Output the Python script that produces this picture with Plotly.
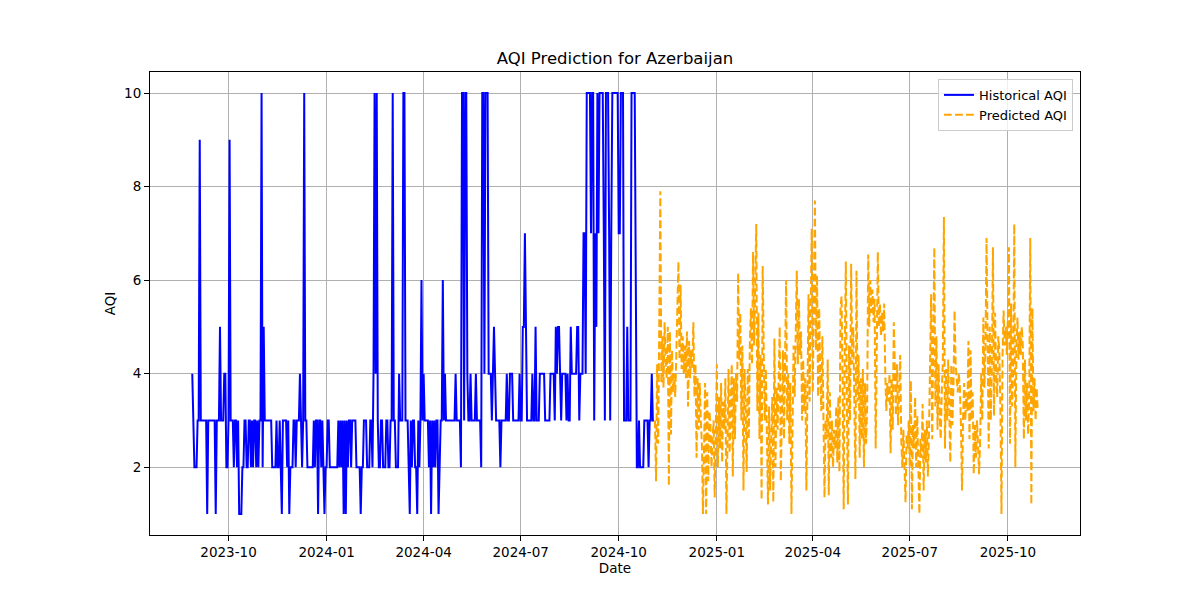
import pandas as pd
import plotly.graph_objects as go

# ---------------- data ----------------
hist_start = "2023-08-28"
hist_aqi = [
    4,3,2,2,2,3,3,9,3,3,
    3,3,3,3,1,3,3,3,3,3,
    3,3,1,3,3,3,5,3,3,3,
    4,4,2,2,3,9,3,3,3,2,
    3,3,2,3,1,1,1,2,2,3,
    3,2,2,3,3,2,3,2,3,3,
    2,3,2,3,3,10,2,5,3,3,
    3,3,3,3,3,2,2,2,2,3,
    2,2,3,2,1,3,3,3,3,2,
    3,1,2,2,2,3,3,2,3,3,
    3,4,3,2,3,10,3,3,2,2,
    2,2,2,2,3,2,3,3,1,3,
    3,2,3,2,1,2,2,3,3,2,
    2,2,2,2,2,2,2,3,2,3,
    2,3,1,3,1,3,2,3,3,2,
    3,3,3,3,2,2,2,2,1,2,
    2,3,3,3,2,2,2,3,3,2,
    4,10,4,10,3,2,2,3,3,2,
    2,2,3,3,2,2,3,3,10,3,
    3,2,2,2,4,3,3,3,10,10,
    3,3,3,2,1,3,2,3,3,2,
    2,1,3,2,3,6,3,4,3,3,
    3,3,2,3,1,3,2,3,2,3,
    3,1,2,3,3,6,3,4,3,3,
    3,3,3,3,3,3,3,4,3,3,
    3,3,2,10,10,3,10,10,4,3,
    3,4,3,3,3,3,4,3,3,3,
    3,2,10,10,4,10,10,10,4,4,
    4,3,4,5,4,3,3,3,3,2,
    3,3,3,3,3,4,3,3,4,4,
    4,3,3,3,3,3,3,4,3,3,
    5,5,7,5,3,3,3,3,3,4,
    3,3,5,3,3,3,4,4,4,4,
    4,3,3,3,3,3,4,4,4,4,
    3,5,4,5,5,4,3,4,4,4,
    4,3,4,3,3,5,4,4,4,4,
    4,5,5,3,4,4,4,7,7,4,
    10,10,10,10,7,10,10,3,7,5,
    10,7,10,10,10,10,7,3,10,10,
    10,7,3,7,10,10,10,10,10,10,
    7,7,10,10,10,3,3,3,5,3,
    3,3,10,10,10,10,6,2,2,3,
    2,2,2,2,3,3,3,3,2,3,
    3,4,3,3,
]

pred_aqi = [
    3.0, 1.7, 4.2, 2.5, 5.0, 7.9, 3.8, 4.8, 3.7, 5.1,
    4.2, 3.9, 5.0, 1.6, 4.9, 2.7, 4.5, 3.6, 4.0, 3.5,
    4.4, 5.6, 6.4, 4.3, 5.9, 4.1, 4.8, 4.0, 4.6, 3.9,
    4.9, 3.3, 4.7, 3.9, 4.5, 4.1, 5.1, 3.5, 4.2, 2.2,
    3.9, 2.8, 3.8, 3.0, 2.5, 1.0, 2.3, 3.8, 1.0, 3.6,
    1.7, 3.2, 2.9, 2.0, 2.6, 3.0, 1.35, 2.6, 4.2, 2.0,
    3.5, 2.4, 3.8, 2.1, 3.4, 2.8, 3.9, 1.0, 3.2, 4.1,
    2.3, 3.7, 4.2, 1.8, 3.9, 2.6, 4.0, 3.4, 6.15, 4.3,
    5.3, 3.0, 4.6, 1.5, 4.1, 3.2, 1.9, 4.1, 2.6, 4.7,
    5.4, 4.2, 6.6, 4.6, 5.8, 7.2, 3.2, 5.3, 2.6, 4.4,
    1.3, 6.3, 4.5, 3.0, 4.1, 2.2, 1.2, 3.3, 1.5, 2.6,
    3.5, 1.25, 4.75, 2.0, 3.7, 2.8, 4.0, 5.0, 1.7, 3.6,
    4.5, 2.6, 3.9, 6.0, 3.0, 4.0, 2.5, 3.8, 1.0, 3.1,
    4.6, 3.5, 5.5, 6.2, 4.2, 5.6, 4.4, 4.9, 3.0, 4.3,
    3.2, 3.9, 1.5, 4.0, 5.7, 3.4, 5.2, 7.1, 3.6, 5.3,
    7.7, 4.5, 6.1, 3.5, 5.4, 4.0, 3.2, 4.8, 2.3, 1.35,
    3.0, 2.6, 4.3, 1.4, 3.6, 2.2, 3.0, 2.0, 2.8, 2.4,
    3.3, 2.1, 3.5, 1.9, 5.4, 5.65, 3.8, 1.1, 4.5, 6.4,
    3.2, 1.2, 4.6, 3.0, 6.35, 4.2, 5.0, 3.1, 1.75, 6.2,
    3.4, 4.4, 2.2, 3.9, 2.6, 4.1, 2.0, 3.8, 2.5, 3.3,
    6.55, 5.0, 6.0, 5.3, 5.8, 5.1, 5.6, 2.4, 5.2, 6.6,
    5.0, 5.5, 4.8, 5.3, 4.9, 5.5, 4.0, 3.2, 3.8, 3.4,
    4.0, 2.3, 3.9, 2.8, 5.1, 3.6, 3.1, 4.2, 2.9, 3.6,
    4.4, 2.6, 2.0, 2.8, 2.2, 1.25, 2.7, 2.4, 3.0, 2.0,
    3.85, 1.1, 2.9, 2.4, 3.5, 2.0, 3.1, 1.7, 1.0, 2.6,
    2.2, 3.35, 1.5, 2.8, 2.1, 3.0, 1.8, 2.7, 4.2, 5.7,
    2.6, 4.9, 6.7, 3.3, 4.8, 2.8, 4.2, 3.1, 2.6, 3.6,
    4.3, 7.35, 2.4, 4.1, 3.0, 4.3, 2.7, 2.1, 4.2, 2.9,
    3.8, 5.35, 4.2, 3.8, 3.6, 4.0, 3.7, 2.9, 1.5, 3.1,
    3.8, 3.0, 3.6, 3.2, 4.7, 2.6, 4.5, 3.0, 3.6, 1.85,
    2.9, 2.2, 3.0, 2.5, 1.85, 2.6, 4.0, 3.0, 5.2, 3.7,
    4.6, 6.9, 3.5, 2.4, 5.0, 3.0, 4.2, 6.7, 3.1, 5.3,
    4.0, 3.5, 4.8, 4.5, 3.2, 1.0, 4.4, 5.35, 4.6, 5.0,
    4.4, 5.2, 6.7, 2.5, 5.5, 3.3, 4.1, 7.2, 2.0, 4.6,
    5.2, 4.3, 4.9, 4.4, 5.0, 4.6, 2.6, 4.3, 3.0, 3.8,
    2.7, 3.5, 6.9, 1.2, 5.4, 3.2, 3.9, 3.0, 3.7, 3.2,
]

y_ticks = [2, 4, 6, 8, 10]

hist_dates = pd.date_range(hist_start, periods=len(hist_aqi), freq="D")
pred_dates = pd.date_range(hist_dates[-1] + pd.Timedelta(days=1),
                           periods=len(pred_aqi), freq="D")

# axis ranges with matplotlib-like 5% margins
x0, x1 = hist_dates[0], pred_dates[-1]
span = x1 - x0
xr = [x0 - span * 0.05, x1 + span * 0.05]
all_vals = hist_aqi + pred_aqi
vmin, vmax = min(all_vals), max(all_vals)
pad = (vmax - vmin) * 0.05
yr = [vmin - pad, vmax + pad]

FONT = "DejaVu Sans"
OFF = 8  # page body margin offset

fig = go.Figure()
fig.add_trace(go.Scatter(
    x=hist_dates, y=hist_aqi, mode="lines", name="Historical AQI",
    line=dict(color="blue", width=2),
))
fig.add_trace(go.Scatter(
    x=pred_dates, y=pred_aqi, mode="lines", name="Predicted AQI",
    line=dict(color="orange", width=2, dash="7.7px,3.3px"),
))

axis_common = dict(
    showline=True, linecolor="black", linewidth=1, mirror=True,
    showgrid=True, gridcolor="#b0b0b0", gridwidth=1,
    ticks="outside", ticklen=5, tickwidth=1, tickcolor="black",
    tickfont=dict(family=FONT, size=13.5, color="black"),
    zeroline=False,
)

fig.update_layout(
    width=1200, height=600,
    margin=dict(l=150 - OFF, r=120 + OFF, t=72 - OFF, b=65 + OFF, pad=0),
    paper_bgcolor="white", plot_bgcolor="white",
    font=dict(family=FONT, color="black"),
    title=dict(text="AQI Prediction for Azerbaijan", x=0.5, xref="paper",
               y=1 - (58 - OFF) / 600, yref="container", yanchor="middle",
               font=dict(family=FONT, size=16.5, color="black")),
    xaxis=dict(range=xr, tick0="2023-10-01", dtick="M3", tickformat="%Y-%m",
               title=dict(text="Date", font=dict(family=FONT, size=13.5), standoff=4),
               **axis_common),
    yaxis=dict(range=yr, tickvals=y_ticks,
               title=dict(text="AQI", font=dict(family=FONT, size=13.5), standoff=5),
               **axis_common),
    legend=dict(x=0.9925, y=0.985, xanchor="right", yanchor="top",
                bgcolor="rgba(255,255,255,0.8)", bordercolor="#cccccc",
                borderwidth=1, font=dict(family=FONT, size=13),
                tracegroupgap=0),
    showlegend=True,
)

fig.write_html("out.html")
